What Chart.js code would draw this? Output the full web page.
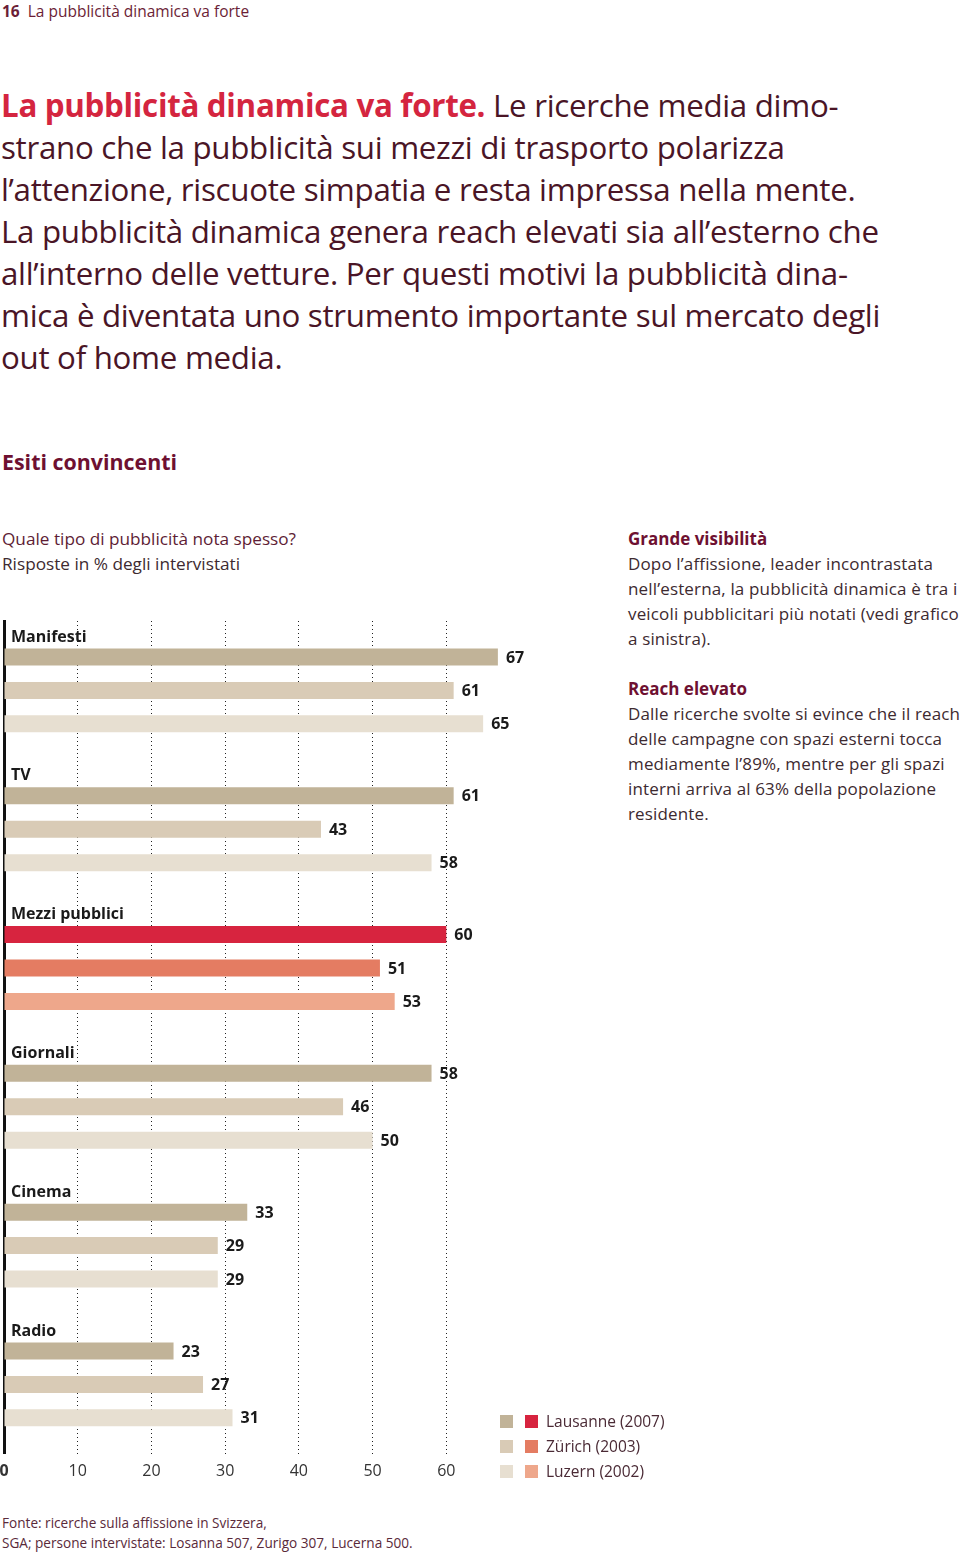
<!DOCTYPE html>
<html>
<head>
<meta charset="utf-8">
<script src="https://cdn.jsdelivr.net/npm/chart.js@4/dist/chart.umd.min.js"></script>
<style>
  body { margin: 0; background: #fff; font-family: "Open Sans", sans-serif; }
  .page { position: relative; width: 960px; height: 1553px; overflow: hidden; }
  .abs { position: absolute; white-space: nowrap; }
  .header { left: 2px; top: 1px; font-size: 15.5px; line-height: 20px; color: #6b1e36; }
  .header b { margin-right: 4px; }
  .lead { left: 1px; top: 84px; font-size: 31.3px; line-height: 42px; color: #4a1526; letter-spacing: -0.3px; }
  .lead .red { color: #d4253f; font-weight: 700; }
  .section { left: 2px; top: 447px; font-size: 21.4px; line-height: 30px; font-weight: 700; color: #6e1031; }
  .sub { left: 2px; top: 526px; font-size: 17.2px; line-height: 25px; color: #5e1d35; }
  .sub .dark { color: #3d2a30; }
  .side { left: 628px; top: 526px; font-size: 17px; line-height: 25px; color: #3d2a30; letter-spacing: 0.15px; }
  .side b { color: #6e1031; letter-spacing: 0; }
  .note { left: 2px; top: 1513px; font-size: 13.6px; line-height: 20px; color: #5a2a3a; }
  #chartBox { position: absolute; left: 0; top: 600px; width: 540px; height: 901px; }
  #legend { position: absolute; left: 500px; top: 1409px; font-size: 15.5px; line-height: 25px; color: #4a2a35; }
  #legend .row { display: flex; align-items: center; height: 25px; }
  #legend .sw { width: 13px; height: 13px; margin-right: 12px; }
  #legend .sw + .sw { margin-right: 8px; }
</style>
</head>
<body>
<div class="page">
  <div class="abs header"><b>16</b> La pubblicità dinamica va forte</div>

  <div class="abs lead">
    <div><span class="red">La pubblicità dinamica va forte.</span> Le ricerche media dimo-</div>
    <div>strano che la pubblicità sui mezzi di trasporto polarizza</div>
    <div>l’attenzione, riscuote simpatia e resta impressa nella mente.</div>
    <div>La pubblicità dinamica genera reach elevati sia all’esterno che</div>
    <div>all’interno delle vetture. Per questi motivi la pubblicità dina-</div>
    <div>mica è diventata uno strumento importante sul mercato degli</div>
    <div>out of home media.</div>
  </div>

  <div class="abs section">Esiti convincenti</div>

  <div class="abs sub">
    <div>Quale tipo di pubblicità nota spesso?</div>
    <div class="dark">Risposte in % degli intervistati</div>
  </div>

  <div class="abs side">
    <div><b>Grande visibilità</b></div>
    <div>Dopo l’affissione, leader incontrastata</div>
    <div>nell’esterna, la pubblicità dinamica è tra i</div>
    <div>veicoli pubblicitari più notati (vedi grafico</div>
    <div>a sinistra).</div>
    <div>&nbsp;</div>
    <div><b>Reach elevato</b></div>
    <div>Dalle ricerche svolte si evince che il reach</div>
    <div>delle campagne con spazi esterni tocca</div>
    <div>mediamente l’89%, mentre per gli spazi</div>
    <div>interni arriva al 63% della popolazione</div>
    <div>residente.</div>
  </div>

  <div id="chartBox"><canvas id="chart"></canvas></div>
  <div id="legend"></div>

  <div class="abs note">
    <div>Fonte: ricerche sulla affissione in Svizzera,</div>
    <div>SGA; persone intervistate: Losanna 507, Zurigo 307, Lucerna 500.</div>
  </div>
</div>

<script>
// data
const categories = ['Manifesti', 'TV', 'Mezzi pubblici', 'Giornali', 'Cinema', 'Radio'];
const seriesNames = ['Lausanne (2007)', 'Zürich (2003)', 'Luzern (2002)'];
const lausanne2007 = [67, 61, 60, 58, 33, 23];
const zurich2003 = [61, 43, 51, 46, 29, 27];
const luzern2002 = [65, 58, 53, 50, 29, 31];
const xTicks = [0, 10, 20, 30, 40, 50, 60];
const highlight = 'Mezzi pubblici';

const beige = ['#c1b398', '#d9cbb6', '#e7dfd1'];
const reds = ['#d7243f', '#e47c62', '#eea78b'];

const colorsFor = (i) => categories.map(c => c === highlight ? reds[i] : beige[i]);

// legend
const legend = document.getElementById('legend');
seriesNames.forEach((name, i) => {
    const row = document.createElement('div');
    row.className = 'row';
    row.innerHTML = '<span class="sw" style="background:' + beige[i] + '"></span>' +
        '<span class="sw" style="background:' + reds[i] + '"></span>' + name;
    legend.appendChild(row);
});

const barLabels = {
    id: 'barLabels',
    afterDatasetsDraw(chart) {
        const ctx = chart.ctx;
        ctx.save();
        ctx.font = 'bold 16px "Open Sans", sans-serif';
        ctx.fillStyle = '#1a1a1a';
        ctx.textBaseline = 'middle';
        ctx.textAlign = 'left';
        chart.data.datasets.forEach((ds, i) => {
            chart.getDatasetMeta(i).data.forEach((bar, j) => {
                ctx.fillText(ds.data[j], bar.x + 8, bar.y + 1);
            });
        });
        // category names above the first bar of each group
        chart.getDatasetMeta(0).data.forEach((bar, j) => {
            ctx.fillText(categories[j], chart.chartArea.left + 7, bar.y - 20);
        });
        ctx.restore();
    }
};

new Chart(document.getElementById('chart'), {
    type: 'bar',
    data: {
        labels: categories,
        datasets: [
            { label: seriesNames[0], data: lausanne2007, backgroundColor: colorsFor(0) },
            { label: seriesNames[1], data: zurich2003, backgroundColor: colorsFor(1) },
            { label: seriesNames[2], data: luzern2002, backgroundColor: colorsFor(2) },
        ]
    },
    options: {
        indexAxis: 'y',
        responsive: true,
        maintainAspectRatio: false,
        animation: false,
        categoryPercentage: 0.723,
        barPercentage: 0.507,
        layout: { padding: { left: 4, right: 20, top: 21, bottom: 12 } },
        plugins: { legend: { display: false }, tooltip: { enabled: false } },
        scales: {
            x: {
                min: 0,
                max: 70,
                afterBuildTicks: axis => { axis.ticks = xTicks.map(v => ({ value: v })); },
                afterFit: axis => { axis.paddingLeft = 0; axis.paddingRight = 0; },
                border: { display: false, dash: [1, 3] },
                grid: {
                    drawTicks: false,
                    color: ctx => ctx.tick && ctx.tick.value === 0 ? 'rgba(0,0,0,0)' : '#222',
                    lineWidth: 1,
                },
                ticks: {
                    padding: 8,
                    color: '#333',
                    font: ctx => ({
                        family: '"Open Sans", sans-serif',
                        size: 16,
                        weight: ctx.tick && ctx.tick.value === 0 ? 'bold' : 'normal'
                    }),
                    maxRotation: 0,
                    autoSkip: false,
                }
            },
            y: {
                afterFit: axis => { axis.width = 0; },
                border: { display: true, color: '#111', width: 3 },
                grid: { display: false, drawTicks: false },
                ticks: { display: false }
            }
        }
    },
    plugins: [barLabels]
});
</script>
</body>
</html>
